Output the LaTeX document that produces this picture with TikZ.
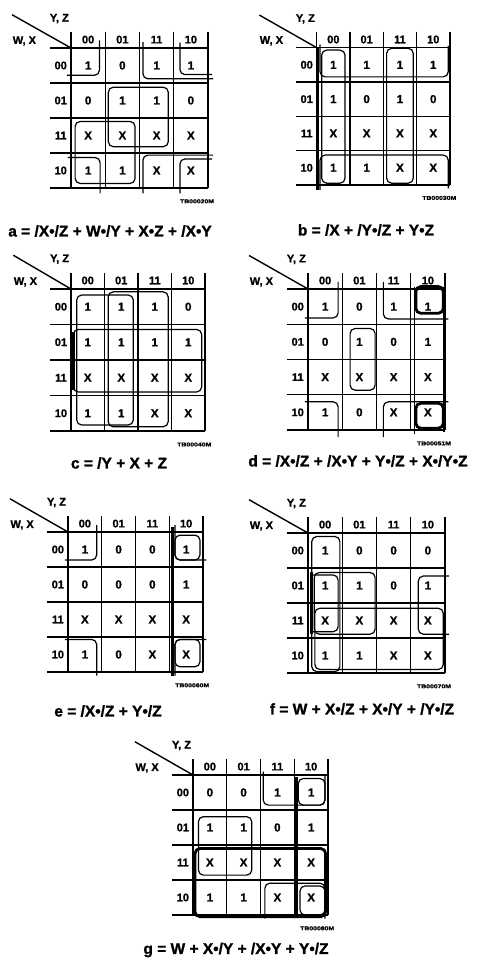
\documentclass[tikz,border=0pt]{standalone}
\usepackage{fontspec}
\setmainfont{Liberation Sans}
\newfontfamily\heavy[FakeBold=1.2]{Liberation Sans Bold}
\usepackage{graphicx}
\tikzset{
 gridln/.style={line width=1.4pt},
 lp/.style={line width=1.2pt, rounded corners=5pt},
 thk/.style={line width=2.8pt, rounded corners=5pt},
 val/.style={font=\fontsize{11.5}{11.5}\heavy, inner sep=0pt},
 hdr/.style={font=\fontsize{11}{11}\heavy, inner sep=0pt},
 axl/.style={font=\fontsize{11}{11}\heavy, inner sep=0pt},
 tbl/.style={font=\fontsize{5.5}{5.5}\heavy, inner sep=0pt},
 eqn/.style={font=\fontsize{15.5}{15.5}\heavy, inner sep=0pt},
}
\newcommand\kframe[2]{%
 \foreach \j in {0,...,4} \draw[gridln] (-0.62,\j) -- (4,\j);
 \foreach \i in {0,...,4} \draw[gridln] (\i,-0.46) -- (\i,4);
 \coordinate (#1dg) at (-1.72,-0.95);
 \coordinate (#1og) at (0,0);
 \draw[line width=1.4pt] (#1dg) -- (#1og);
 \node[axl] (#1yz) at (-0.34,-0.84) {Y, Z};
 \node[axl] (#1wx) at (-1.36,-0.2) {W, X};
 \foreach \t [count=\i from 0] in {00,01,11,10}{
   \node[hdr] (#1c\i) at (\i+0.5,-0.24) {\t};
   \node[hdr] (#1r\i) at (-0.3,\i+0.5) {\t};
 }
 \node[tbl] (#1tb) at (3.68,4.38) {\scalebox{1.25}[1]{#2}};
}
\newcommand\kvals[2]{%
 \foreach \v [count=\i from 0] in {#2}{%
   \pgfmathtruncatemacro\rr{div(\i,4)}%
   \pgfmathtruncatemacro\cc{mod(\i,4)}%
   \node[val] (#1v\i) at (\cc+0.5,\rr+0.5) {\v};
 }
}
\begin{document}
\begin{tikzpicture}[x=1pt,y=-1pt]
\useasboundingbox[fill=white] (0,0) rectangle (480,963);

% ---------- map a ----------
\begin{scope}[shift={(71,48)},x=34.25pt,y=-35pt]
 \kframe{a}{TB00020M}
 \kvals{a}{1,0,1,1, 0,1,1,0, X,X,X,X, 1,1,X,X}
 \draw[lp] (0.83,-0.22) -- (0.83,0.78) -- (-0.12,0.78);
 \draw[lp] (-0.1,3.13) -- (0.85,3.13) -- (0.85,4.15);
 \draw[lp] (3.18,-0.15) -- (3.18,0.76) -- (4.12,0.76);
 \draw[lp] (4.12,3.17) -- (3.18,3.17) -- (3.18,4.15);
 \draw[lp] (2.1,-0.17) -- (2.1,0.88) -- (4.15,0.88);
 \draw[lp] (2.1,4.15) -- (2.1,3.06) -- (4.15,3.06);
 \draw[lp] (0.12,2.1) rectangle (1.87,3.87);
 \draw[lp] (1.09,1.12) rectangle (2.84,2.82);
\end{scope}
\node[eqn] (aeq) at (110,231) {a = /X•/Z + W•/Y + X•Z + /X•Y};

% ---------- map b ----------
\begin{scope}[shift={(316.7,47.7)},x=33.3pt,y=-34.3pt]
 \kframe{b}{TB00030M}
 \kvals{b}{1,1,1,1, 1,0,1,0, X,X,X,X, 1,1,X,X}
 \draw[thk,rounded corners=0pt] (0.03,0) -- (0.03,4.15);
 \draw[lp] (0.1,-0.1) -- (0.1,0.85) -- (3.95,0.85) -- (3.95,-0.05);
 \draw[lp] (0.1,4.15) -- (0.1,3.13) -- (3.95,3.13) -- (3.95,4.1);
 \draw[lp] (0.15,0.07) rectangle (0.85,3.95);
 \draw[lp] (2.1,0.02) rectangle (2.9,3.95);
\end{scope}
\node[eqn] (beq) at (366,230) {b = /X + /Y•/Z + Y•Z};

% ---------- map c ----------
\begin{scope}[shift={(71,289)},x=33.5pt,y=-35.5pt]
 \kframe{c}{TB00040M}
 \kvals{c}{1,1,1,0, 1,1,1,1, X,X,X,X, 1,1,X,X}
 \draw[lp] (0.17,0.17) rectangle (1.86,3.83);
 \draw[lp] (1.11,0.08) rectangle (2.9,3.88);
 \draw[lp] (0.07,1.14) rectangle (3.9,2.9);
 \draw[thk,rounded corners=0pt] (0.07,1.2) -- (0.07,2.84);
\end{scope}
\node[eqn] (ceq) at (119,463) {c = /Y + X + Z};

% ---------- map d ----------
\begin{scope}[shift={(308,289)},x=34.25pt,y=-35.25pt]
 \kframe{d}{TB00051M}
 \kvals{d}{1,0,1,1, 0,1,0,1, X,X,X,X, 1,0,X,X}
 \draw[lp] (0.88,-0.2) -- (0.88,0.82) -- (-0.09,0.82);
 \draw[lp] (-0.09,3.2) -- (0.88,3.2) -- (0.88,4.2);
 \draw[lp] (2.2,-0.2) -- (2.2,0.85) -- (4.1,0.85);
 \draw[lp] (2.2,4.2) -- (2.2,3.2) -- (4.1,3.2);
 \draw[lp] (1.23,1.12) rectangle (1.96,2.87);
 \draw[lp] (3.12,-0.07) -- (3.12,4.1);
 \draw[thk] (3.15,-0.07) rectangle (3.95,0.69);
 \draw[thk] (3.15,3.24) rectangle (3.95,3.95);
 \draw[thk,rounded corners=0pt] (3.97,-0.07) -- (3.97,4.05);
\end{scope}
\node[eqn] (deq) at (358,461) {d = /X•/Z + /X•Y + Y•/Z + X•/Y•Z};

% ---------- map e ----------
\begin{scope}[shift={(68,532)},x=33.75pt,y=-35pt]
 \kframe{e}{TB00060M}
 \kvals{e}{1,0,0,1, 0,0,0,1, X,X,X,X, 1,0,X,X}
 \draw[lp] (0.85,-0.2) -- (0.85,0.8) -- (-0.09,0.8);
 \draw[lp] (-0.09,3.07) -- (0.85,3.07) -- (0.85,4.1);
 \draw[lp] (3.17,0.09) rectangle (3.91,0.8);
 \draw[lp] (3.17,-0.2) -- (3.17,0.8) -- (4.1,0.8);
 \draw[lp] (3.17,3.07) rectangle (3.91,3.85);
 \draw[lp] (3.17,4.1) -- (3.17,3.07) -- (4.1,3.07);
 \draw[thk,rounded corners=0pt] (3.1,-0.15) -- (3.1,4.1);
\end{scope}
\node[eqn] (eeq) at (108,711) {e = /X•/Z + Y•/Z};

% ---------- map f ----------
\begin{scope}[shift={(308,533)},x=34.25pt,y=-35pt]
 \kframe{f}{TB00070M}
 \kvals{f}{1,0,0,0, 1,1,0,1, X,X,X,X, 1,1,X,X}
 \draw[lp] (0.11,0.1) rectangle (0.93,3.96);
 \draw[lp] (0.18,1.13) rectangle (1.96,2.89);
 \draw[lp] (0.1,1.2) -- (0.88,1.2) -- (0.88,2.82) -- (0.1,2.82);
 \draw[lp] (4.12,1.23) -- (3.22,1.23) -- (3.22,2.89) -- (4.12,2.89);
 \draw[lp] (0.2,2.15) rectangle (3.95,3.9);
 \draw[thk,rounded corners=0pt] (0.1,1.12) -- (0.1,2.88);
\end{scope}
\node[eqn] (feq) at (362,709) {f = W + X•/Z + X•/Y + /Y•/Z};

% ---------- map g ----------
\begin{scope}[shift={(193,775)},x=33.75pt,y=-35pt]
 \kframe{g}{TB00080M}
 \kvals{g}{0,0,1,1, 1,1,0,1, X,X,X,X, 1,1,X,X}
 \draw[lp] (2.08,-0.1) -- (2.08,0.86) -- (3.91,0.86) -- (3.91,0.0);
 \draw[lp] (3.12,0.1) rectangle (3.91,0.86);
 \draw[lp] (2.13,4.1) -- (2.13,3.09) -- (3.91,3.09) -- (3.91,4.1);
 \draw[lp] (3.17,3.17) rectangle (3.91,4.0);
 \draw[lp] (0.16,1.19) rectangle (1.74,2.86);
 \draw[thk] (0.06,2.1) rectangle (3.93,4.05);
 \draw[thk,rounded corners=0pt] (3.07,0.05) -- (3.07,4.05);
\end{scope}
\node[eqn] (geq) at (236,950) {g = W + X•/Y + /X•Y + Y•/Z};
\end{tikzpicture}
\end{document}
